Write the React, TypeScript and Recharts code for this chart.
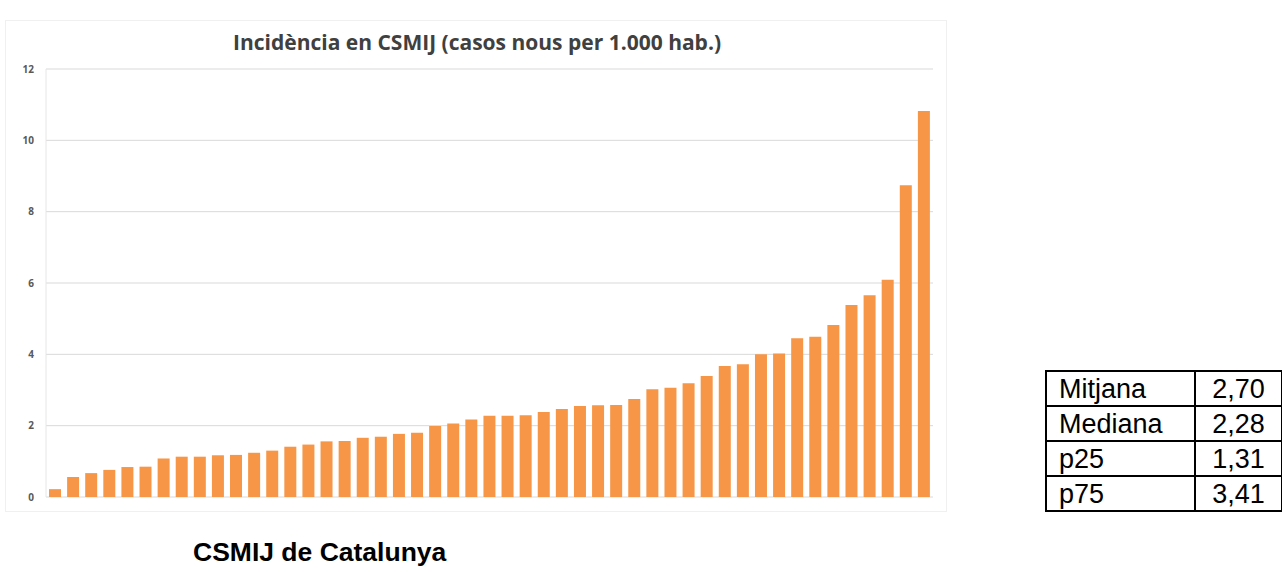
import React from "react"
import { BarChart, Bar, XAxis, YAxis, CartesianGrid } from "recharts"

const centres: string[] = Array.from({ length: 49 }, (_, i) => `CSMIJ ${i + 1}`)

const incidence: number[] = [
  0.22, 0.56, 0.67, 0.76, 0.84, 0.85, 1.08, 1.13, 1.13, 1.17,
  1.18, 1.24, 1.3, 1.41, 1.47, 1.56, 1.57, 1.66, 1.69, 1.77,
  1.8, 1.99, 2.06, 2.17, 2.28, 2.28, 2.29, 2.38, 2.47, 2.55,
  2.57, 2.58, 2.75, 3.02, 3.06, 3.19, 3.39, 3.67, 3.72, 4.0,
  4.02, 4.45, 4.49, 4.82, 5.38, 5.66, 6.09, 8.74, 10.82,
]

const yTicks = [0, 2, 4, 6, 8, 10, 12]

const statLabels = ["Mitjana", "Mediana", "p25", "p75"]
const statValues = ["2,70", "2,28", "1,31", "3,41"]

const data = centres.map((name, i) => ({ name, value: incidence[i] }))

const cell: React.CSSProperties = {
  border: "2px solid #000",
  height: 33,
  padding: "0 0 0 12px",
  fontSize: 27,
  lineHeight: "31px",
  verticalAlign: "bottom",
}

const App = (): React.ReactElement => {
  return (
    <div
      style={{
        position: "absolute",
        left: 0,
        top: 0,
        width: 1282,
        height: 572,
        background: "#fff",
        fontFamily: "'Liberation Sans', Arial, sans-serif",
        overflow: "hidden",
      }}
    >
      <div
        style={{
          position: "absolute",
          left: 5,
          top: 20,
          width: 940,
          height: 490,
          border: "1px solid #f0f0f0",
        }}
      >
        <BarChart
          width={940}
          height={490}
          data={data}
          margin={{ top: 48, right: 13, bottom: 14, left: 0 }}
          barSize={12}
        >
          <text
            x={471}
            y={29}
            textAnchor="middle"
            style={{
              fontFamily: "'Open Sans', sans-serif",
              fontWeight: 700,
              fontSize: 21,
              fill: "#404040",
            }}
          >
            Incidència en CSMIJ (casos nous per 1.000 hab.)
          </text>
          <CartesianGrid vertical={false} stroke="#d9d9d9" />
          <XAxis dataKey="name" tick={false} tickLine={false} height={0} axisLine={{ stroke: "#d9d9d9" }} />
          <YAxis
            width={40}
            domain={[0, 12]}
            ticks={yTicks}
            tickLine={false}
            axisLine={{ stroke: "#e6e6e6" }}
            tickMargin={6}
            tick={{ fontSize: 10, fontWeight: 700, fill: "#595959", fontFamily: "'Open Sans', sans-serif" }}
          />
          <Bar dataKey="value" fill="#F79646" isAnimationActive={false} />
        </BarChart>
      </div>

      <table
        style={{
          position: "absolute",
          left: 1045,
          top: 370,
          borderCollapse: "collapse",
          width: 238,
        }}
      >
        <tbody>
          {statLabels.map((label, i) => (
            <tr key={label}>
              <td style={{ ...cell, width: 135 }}>{label}</td>
              <td style={{ ...cell, padding: 0, textAlign: "center" }}>{statValues[i]}</td>
            </tr>
          ))}
        </tbody>
      </table>

      <div
        style={{
          position: "absolute",
          left: 193,
          top: 537,
          fontSize: 26.5,
          fontWeight: 700,
          color: "#000",
        }}
      >
        CSMIJ de Catalunya
      </div>
    </div>
  )
}

export default App
